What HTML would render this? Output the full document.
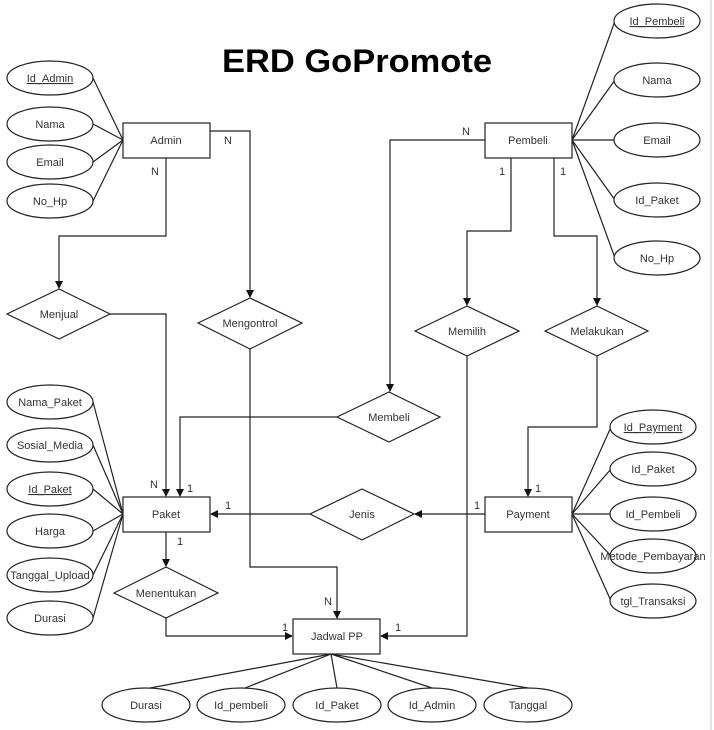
<!DOCTYPE html>
<html><head><meta charset="utf-8"><style>
html,body{margin:0;padding:0;background:#fff;}
svg{display:block;}
text{font-family:"Liberation Sans",Arial,sans-serif;font-size:11px;fill:#333;}
</style></head><body>
<svg width="714" height="730" viewBox="0 0 714 730" xmlns="http://www.w3.org/2000/svg">
<defs><marker id="a" markerWidth="8" markerHeight="8" refX="7" refY="4" orient="auto" markerUnits="userSpaceOnUse"><path d="M0,0 L8,4 L0,8 z" fill="#111"/></marker></defs>
<rect width="714" height="730" fill="#fff"/>
<line x1="711" y1="0" x2="711" y2="730" stroke="#ccc" stroke-width="1"/>
<text x="357" y="72" text-anchor="middle" textLength="270" lengthAdjust="spacingAndGlyphs" style="font-size:32px;font-weight:bold;fill:#000">ERD GoPromote</text>
<g stroke="#222" stroke-width="1.2" fill="none">
<!-- admin attr lines -->
<line x1="93" y1="78" x2="123" y2="140"/><line x1="93" y1="124" x2="123" y2="140"/><line x1="93" y1="162" x2="123" y2="140"/><line x1="93" y1="201" x2="123" y2="140"/>
<!-- pembeli attr lines -->
<line x1="615" y1="21" x2="572" y2="140"/><line x1="615" y1="80" x2="572" y2="140"/><line x1="615" y1="140" x2="572" y2="140"/><line x1="615" y1="200" x2="572" y2="140"/><line x1="615" y1="258" x2="572" y2="140"/>
<!-- paket attr lines -->
<line x1="93" y1="402" x2="123" y2="514"/><line x1="93" y1="445" x2="123" y2="514"/><line x1="93" y1="489" x2="123" y2="514"/><line x1="93" y1="531" x2="123" y2="514"/><line x1="93" y1="575" x2="123" y2="514"/><line x1="93" y1="618" x2="123" y2="514"/>
<!-- payment attr lines -->
<line x1="611" y1="427" x2="572" y2="514"/><line x1="611" y1="469" x2="572" y2="514"/><line x1="611" y1="514" x2="572" y2="514"/><line x1="611" y1="556" x2="572" y2="514"/><line x1="611" y1="601" x2="572" y2="514"/>
<!-- jadwal attr lines -->
<line x1="331" y1="654" x2="150" y2="688"/><line x1="331" y1="654" x2="245" y2="688"/><line x1="331" y1="654" x2="337" y2="688"/><line x1="331" y1="654" x2="432" y2="688"/><line x1="331" y1="654" x2="528" y2="688"/>
<!-- connectors -->
<polyline points="210,131 250,131 250,297" marker-end="url(#a)"/>
<polyline points="166,158 166,236 59,236 59,288" marker-end="url(#a)"/>
<polyline points="110,314 166,314 166,496" marker-end="url(#a)"/>
<polyline points="250,349 250,567 337,567 337,618" marker-end="url(#a)"/>
<polyline points="485,140 390,140 390,391" marker-end="url(#a)"/>
<polyline points="337,417 180,417 180,496" marker-end="url(#a)"/>
<polyline points="511,158 511,231 467,231 467,305" marker-end="url(#a)"/>
<polyline points="554,158 554,236 597,236 597,305" marker-end="url(#a)"/>
<polyline points="467,356 467,636 381,636" marker-end="url(#a)"/>
<polyline points="597,356 597,427 528,427 528,496" marker-end="url(#a)"/>
<polyline points="485,514 415,514" marker-end="url(#a)"/>
<polyline points="310,514 211,514" marker-end="url(#a)"/>
<polyline points="166,532 166,566" marker-end="url(#a)"/>
<polyline points="166,618 166,636 292,636" marker-end="url(#a)"/>
</g>
<g stroke="#222" stroke-width="1.2" fill="#fff">
<rect x="123" y="123" width="87" height="35"/>
<rect x="485" y="123" width="87" height="35"/>
<rect x="123" y="497" width="87" height="35"/>
<rect x="485" y="497" width="87" height="35"/>
<rect x="293" y="619" width="87" height="35"/>
<polygon points="7,314 59,289 110,314 59,339"/>
<polygon points="198,323 250,298 302,323 250,349"/>
<polygon points="415,331 467,306 519,331 467,356"/>
<polygon points="545,331 597,306 648,331 597,356"/>
<polygon points="337,417 389,392 440,417 389,442"/>
<polygon points="310,514 362,489 414,514 362,540"/>
<polygon points="114,593 166,567 218,593 166,618"/>
<ellipse cx="50" cy="78" rx="43" ry="17"/><ellipse cx="50" cy="124" rx="43" ry="17"/><ellipse cx="50" cy="162" rx="43" ry="17"/><ellipse cx="50" cy="201" rx="43" ry="17"/>
<ellipse cx="657" cy="21" rx="43" ry="17"/><ellipse cx="657" cy="80" rx="43" ry="17"/><ellipse cx="657" cy="140" rx="43" ry="17"/><ellipse cx="657" cy="200" rx="43" ry="17"/><ellipse cx="657" cy="258" rx="43" ry="17"/>
<ellipse cx="50" cy="402" rx="43" ry="17"/><ellipse cx="50" cy="445" rx="43" ry="17"/><ellipse cx="50" cy="489" rx="43" ry="17"/><ellipse cx="50" cy="531" rx="43" ry="17"/><ellipse cx="50" cy="575" rx="43" ry="17"/><ellipse cx="50" cy="618" rx="43" ry="17"/>
<ellipse cx="653" cy="427" rx="43" ry="17"/><ellipse cx="653" cy="469" rx="43" ry="17"/><ellipse cx="653" cy="514" rx="43" ry="17"/><ellipse cx="653" cy="556" rx="43" ry="17"/><ellipse cx="653" cy="601" rx="43" ry="17"/>
<ellipse cx="146" cy="705" rx="44" ry="17"/><ellipse cx="241" cy="705" rx="44" ry="17"/><ellipse cx="337" cy="705" rx="44" ry="17"/><ellipse cx="432" cy="705" rx="44" ry="17"/><ellipse cx="528" cy="705" rx="44" ry="17"/>
</g>
<g text-anchor="middle">
<text x="166" y="144">Admin</text><text x="528" y="144">Pembeli</text><text x="166" y="518">Paket</text><text x="528" y="518">Payment</text><text x="337" y="640">Jadwal PP</text>
<text x="59" y="318">Menjual</text><text x="250" y="327">Mengontrol</text><text x="467" y="335">Memilih</text><text x="597" y="335">Melakukan</text><text x="389" y="421">Membeli</text><text x="362" y="518">Jenis</text><text x="166" y="597">Menentukan</text>
<text x="50" y="82" text-decoration="underline">Id_Admin</text><text x="50" y="128">Nama</text><text x="50" y="166">Email</text><text x="50" y="205">No_Hp</text>
<text x="657" y="25" text-decoration="underline">Id_Pembeli</text><text x="657" y="84">Nama</text><text x="657" y="144">Email</text><text x="657" y="204">Id_Paket</text><text x="657" y="262">No_Hp</text>
<text x="50" y="406">Nama_Paket</text><text x="50" y="449">Sosial_Media</text><text x="50" y="493" text-decoration="underline">Id_Paket</text><text x="50" y="535">Harga</text><text x="50" y="579">Tanggal_Upload</text><text x="50" y="622">Durasi</text>
<text x="653" y="431" text-decoration="underline">Id_Payment</text><text x="653" y="473">Id_Paket</text><text x="653" y="518">Id_Pembeli</text><text x="653" y="560">Metode_Pembayaran</text><text x="653" y="605">tgl_Transaksi</text>
<text x="146" y="709">Durasi</text><text x="241" y="709">Id_pembeli</text><text x="337" y="709">Id_Paket</text><text x="432" y="709">Id_Admin</text><text x="528" y="709">Tanggal</text>
<text x="228" y="144">N</text><text x="155" y="175">N</text><text x="466" y="135">N</text><text x="502" y="175">1</text><text x="563" y="175">1</text>
<text x="154" y="488">N</text><text x="190" y="492">1</text><text x="228" y="509">1</text><text x="180" y="545">1</text>
<text x="538" y="492">1</text><text x="477" y="509">1</text>
<text x="328" y="605">N</text><text x="285" y="631">1</text><text x="398" y="631">1</text>
</g>
</svg>
</body></html>
